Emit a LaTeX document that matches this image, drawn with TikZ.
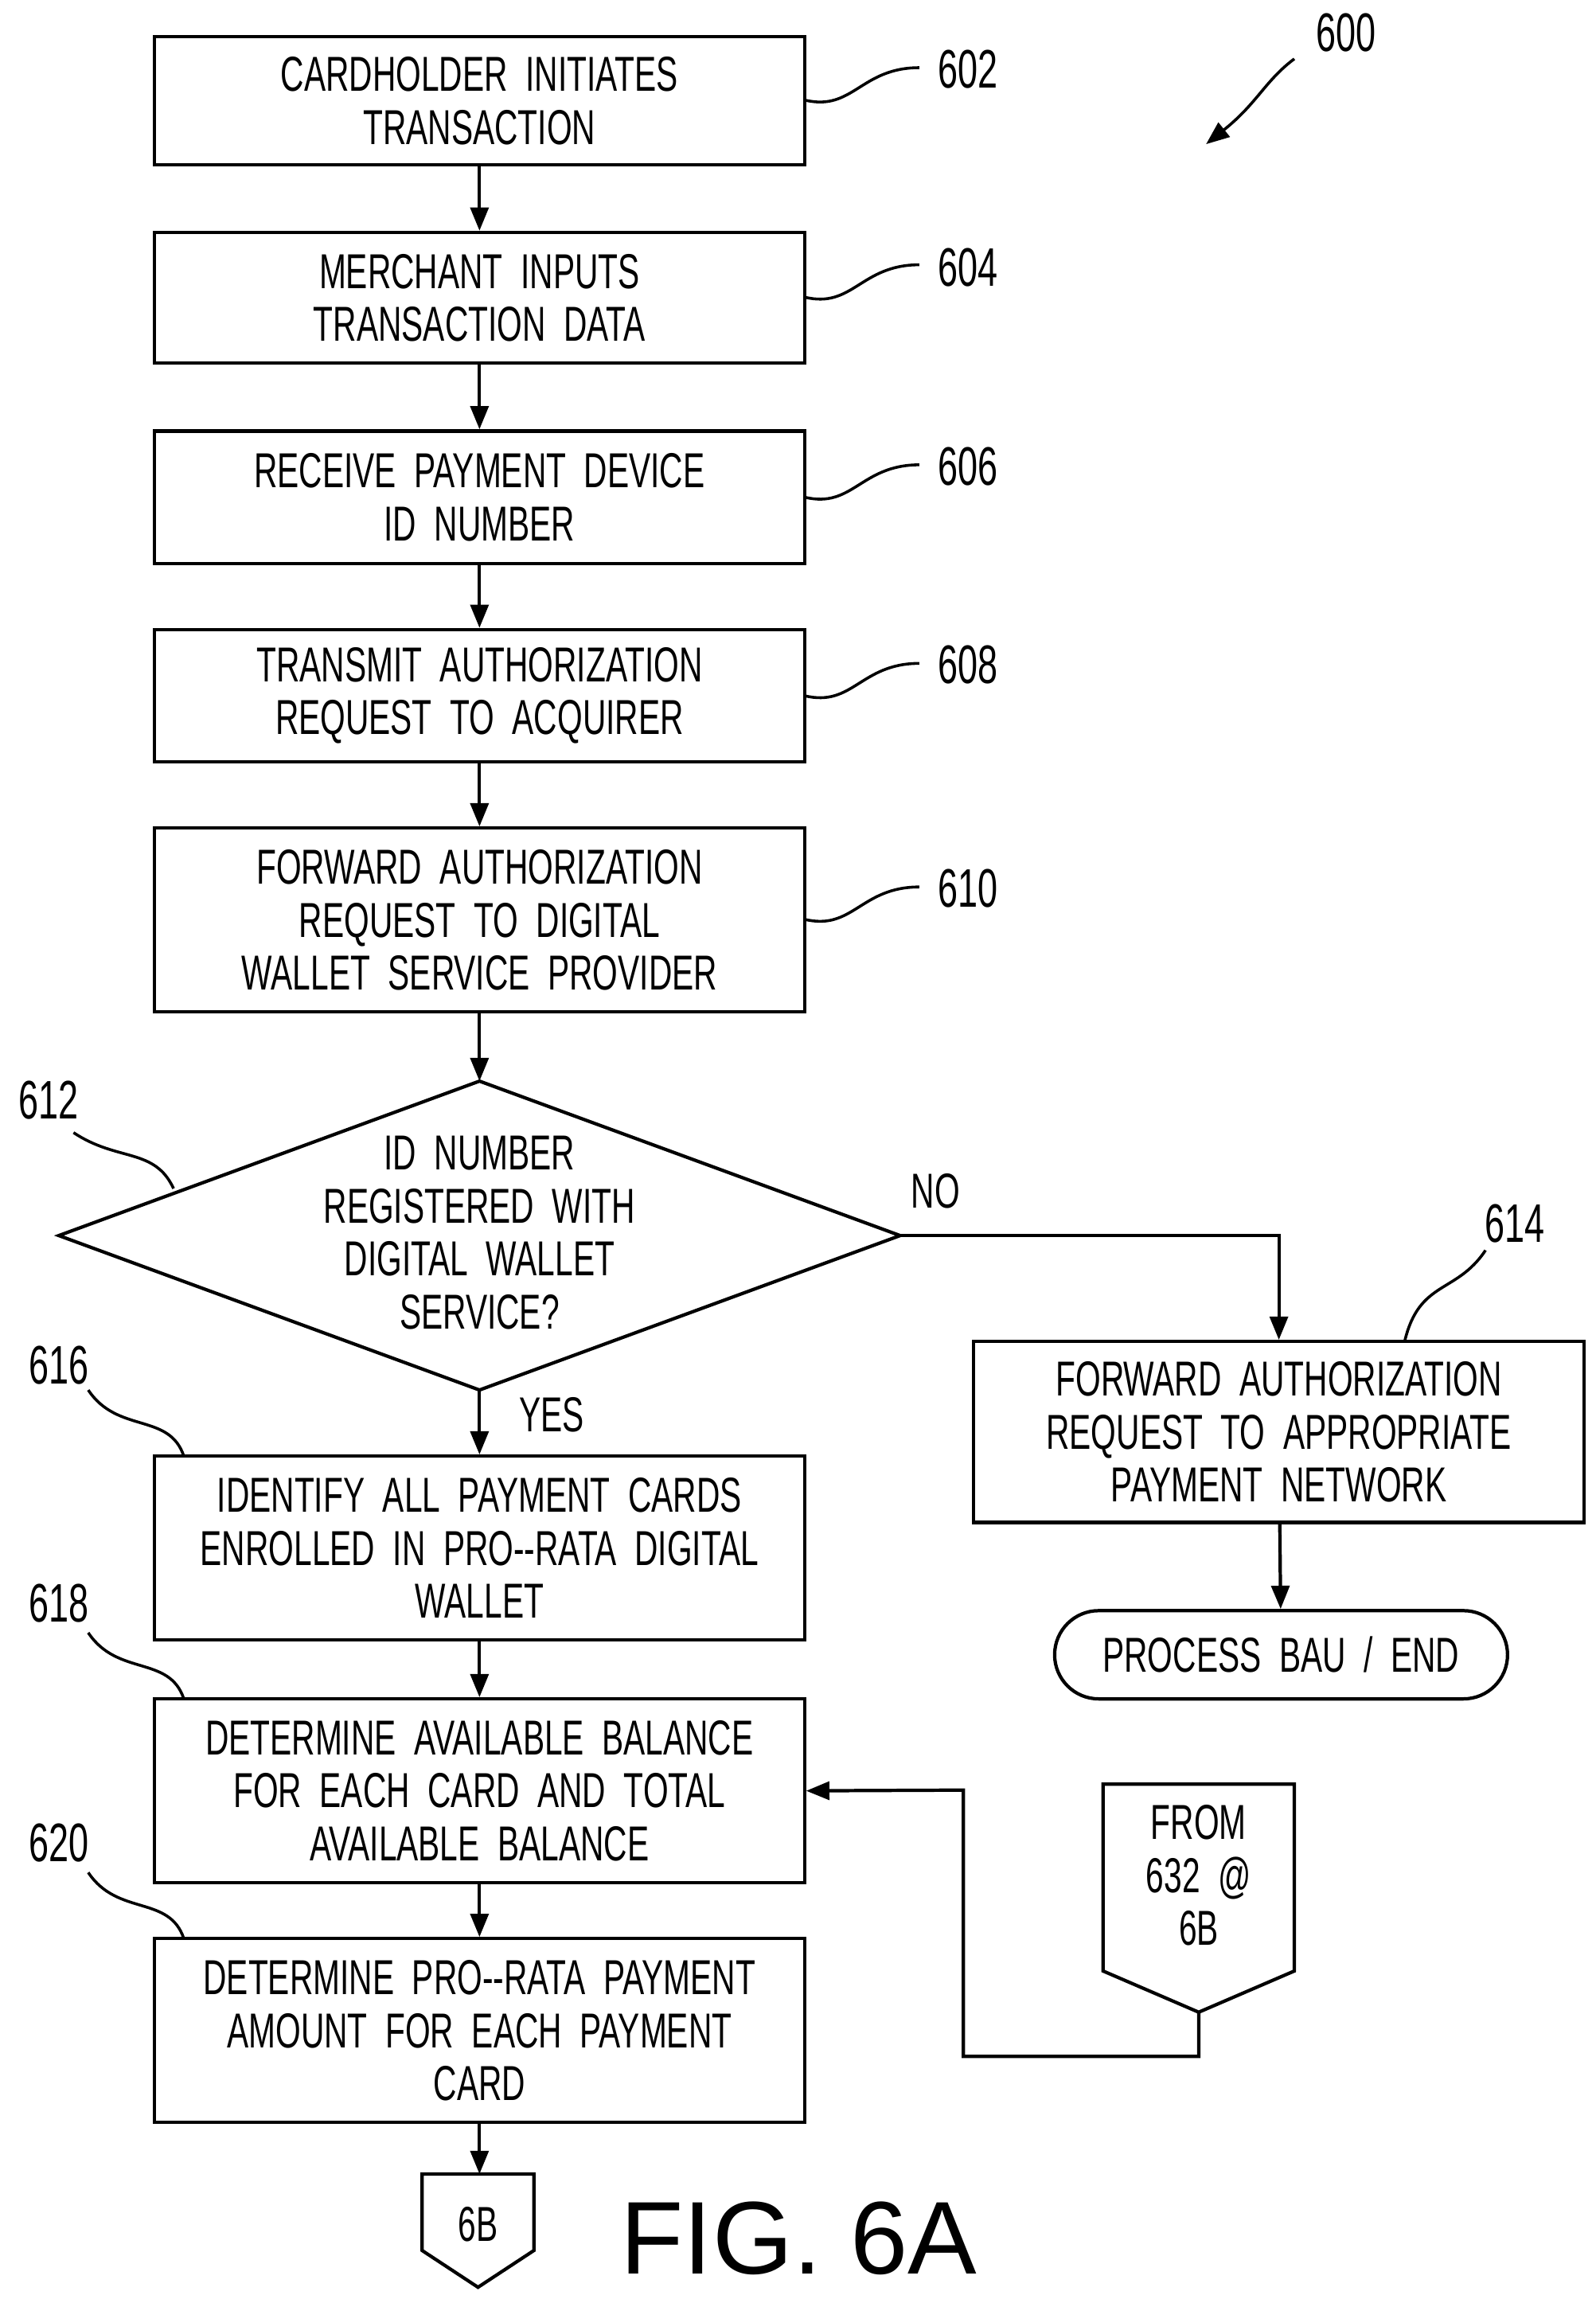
\documentclass[tikz,border=0pt]{standalone}
\usepackage{fontspec}
\setmainfont{Liberation Sans}
\newfontfamily\lbl{Liberation Sans}[FakeStretch=0.66]
\usetikzlibrary{arrows.meta}
\begin{document}
\begin{tikzpicture}[x=0.02cm,y=-0.02cm,line width=1.3pt,
 >={Triangle[length=9pt,width=7pt]},
 box/.style={draw,rectangle,minimum width=8.84cm,align=center,font=\lbl\fontsize{19pt}{20.5pt}\selectfont,inner sep=2pt},
 txt/.style={align=center,font=\lbl\fontsize{19pt}{20.5pt}\selectfont},
 num/.style={font=\lbl\fontsize{21pt}{22pt}\selectfont},
 sq/.style={line width=1.1pt}]
\useasboundingbox (0,0) rectangle (1085,1563);
\node[box,minimum height=1.74cm] (b602) at (326,68.5) {CARDHOLDER\ \ INITIATES\\TRANSACTION};
\node[box,minimum height=1.78cm] (b604) at (326,202.5) {MERCHANT\ \ INPUTS\\TRANSACTION\ \ DATA};
\node[box,minimum height=1.8cm] (b606) at (326,338) {RECEIVE\ \ PAYMENT\ \ DEVICE\\ID\ \ NUMBER};
\node[box,minimum height=1.8cm] (b608) at (326,473) {TRANSMIT\ \ AUTHORIZATION\\REQUEST\ \ TO\ \ ACQUIRER};
\node[box,minimum height=2.5cm] (b610) at (326,625.5) {FORWARD\ \ AUTHORIZATION\\REQUEST\ \ TO\ \ DIGITAL\\WALLET\ \ SERVICE\ \ PROVIDER};
\coordinate (dT) at (326,735); \coordinate (dB) at (326,945);
\coordinate (dL) at (40,840); \coordinate (dR) at (612,840);
\draw (dT) -- (dR) -- (dB) -- (dL) -- cycle;
\node[txt] (d612) at (326,838) {ID\ \ NUMBER\\REGISTERED\ \ WITH\\DIGITAL\ \ WALLET\\SERVICE?};
\node[box,minimum width=8.3cm,minimum height=2.46cm] (b614) at (869.5,973.5) {FORWARD\ \ AUTHORIZATION\\REQUEST\ \ TO\ \ APPROPRIATE\\PAYMENT\ \ NETWORK};
\node[box,minimum width=6.16cm,minimum height=1.2cm,rounded corners=0.6cm] (end) at (871,1125) {PROCESS\ \ BAU\ \ /\ \ END};
\node[box,minimum height=2.5cm] (b616) at (326,1052.5) {IDENTIFY\ \ ALL\ \ PAYMENT\ \ CARDS\\ENROLLED\ \ IN\ \ PRO--RATA\ \ DIGITAL\\WALLET};
\node[box,minimum height=2.5cm] (b618) at (326,1217.5) {DETERMINE\ \ AVAILABLE\ \ BALANCE\\FOR\ \ EACH\ \ CARD\ \ AND\ \ TOTAL\\AVAILABLE\ \ BALANCE};
\node[box,minimum height=2.5cm] (b620) at (326,1380.5) {DETERMINE\ \ PRO--RATA\ \ PAYMENT\\AMOUNT\ \ FOR\ \ EACH\ \ PAYMENT\\CARD};
% off-page connectors
\draw (287,1478) coordinate (o6t0) -- (363,1478) -- (363,1530) -- (325,1555) -- (287,1530) -- cycle;
\coordinate (o6) at (326,1478);
\node[txt] (t6b) at (325,1512) {6B};
\draw (750,1213) -- (880,1213) -- (880,1340) -- (815,1368) coordinate (fromB) -- (750,1340) -- cycle;
\node[txt] (tfrom) at (815,1275) {FROM\\632\ \ @\\6B};
% arrows
\draw[->] (b602) -- (b604);
\draw[->] (b604) -- (b606);
\draw[->] (b606) -- (b608);
\draw[->] (b608) -- (b610);
\draw[->] (b610) -- (dT);
\draw[->] (dB) -- (b616);
\draw[->] (dR) -| (b614);
\draw[->] (b614) -- (end);
\draw[->] (b616) -- (b618);
\draw[->] (b618) -- (b620);
\draw[->] (b620) -- (o6);
\draw[->] (fromB) -- (815,1398) -- (655,1398) -- (655,1217) -- (b618.east);
\node[txt] at (636,810) {NO};
\node[txt] at (375,962) {YES};
% reference numerals
\node[num] at (658,47) {602};
\node[num] at (658,182) {604};
\node[num] at (658,317) {606};
\node[num] at (658,452) {608};
\node[num] at (658,604) {610};
\node[num] at (33,748) {612};
\node[num] at (1030,832) {614};
\node[num] at (40,928) {616};
\node[num] at (40,1090) {618};
\node[num] at (40,1253) {620};
\node[num] at (915,22) {600};
\foreach \y in {68,202,338,473,625}{
 \draw[sq] (547,\y) .. controls (580,\y+8) and (585,\y-22) .. (625,\y-22);}
\draw[sq] (118,808) .. controls (105,780) and (80,790) .. (50,770);
\draw[sq] (955,912) .. controls (965,870) and (990,880) .. (1010,850);
\foreach \y in {990,1155,1318}{
 \draw[sq] (125,\y) .. controls (115,\y-30) and (80,\y-15) .. (60,\y-45);}
\draw[sq,->] (880,40) .. controls (860,55) and (855,70) .. (820,98);
\node[font=\fontsize{40pt}{44pt}\selectfont] at (543,1522) {FIG. 6A};
\end{tikzpicture}
\end{document}
